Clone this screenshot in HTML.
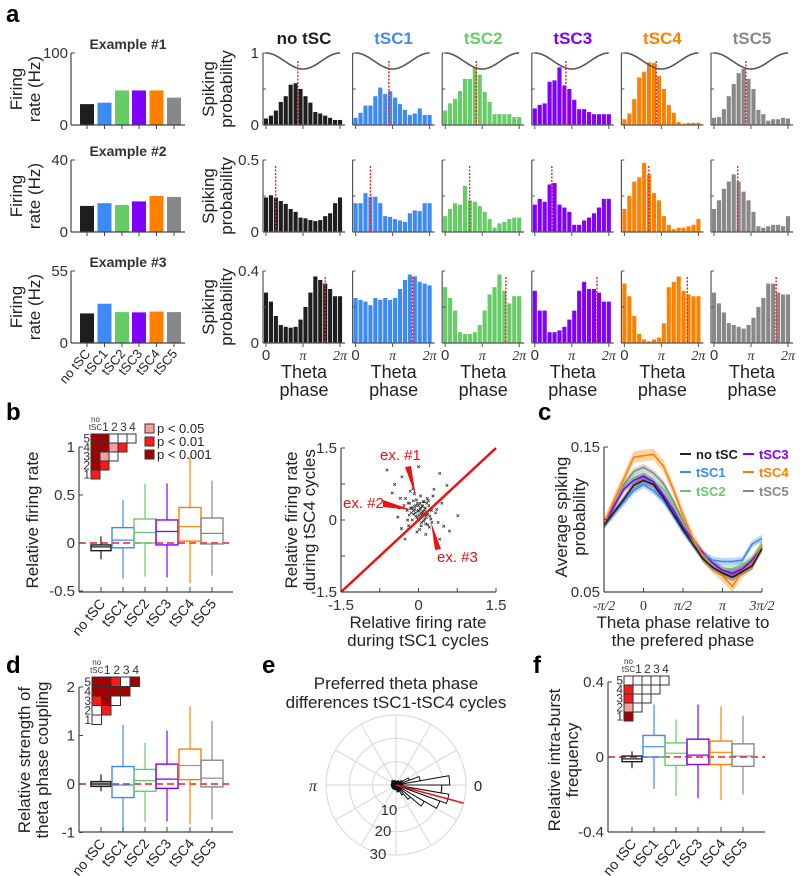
<!DOCTYPE html>
<html><head><meta charset="utf-8">
<style>
html,body{margin:0;padding:0;background:#fff;}
svg{display:block;font-family:"Liberation Sans",Arial,sans-serif;}
</style></head>
<body>
<svg id="fig" width="800" height="876" viewBox="0 0 800 876" xmlns="http://www.w3.org/2000/svg">
<text x="6" y="22" font-size="24" font-weight="bold">a</text>
<text x="6" y="420" font-size="24" font-weight="bold">b</text>
<text x="538" y="420" font-size="24" font-weight="bold">c</text>
<text x="6" y="673" font-size="24" font-weight="bold">d</text>
<text x="262" y="673" font-size="24" font-weight="bold">e</text>
<text x="533" y="673" font-size="24" font-weight="bold">f</text>
</svg>
<script>
// ---------- DATA ----------
const conds = ['no tSC','tSC1','tSC2','tSC3','tSC4','tSC5'];
const colors = ['#1e1e1e','#3d8af7','#66cc66','#8000ff','#ff8000','#888888'];
// Panel a: example firing rates
const ex1Rates = [29,31,48,48,48,38];
const ex2Rates = [14.5,16,15,17,20,19.5];
const ex3Rates = [22.6,30,23.6,23.4,24,23.6];
const exMax = [100,40,55];
// Panel a histograms (16 phase bins), rows = examples, cols = conditions
const hist1 = [
 [.09,.13,.2,.32,.4,.56,.58,.5,.4,.31,.18,.16,.13,.1,.07,.07],
 [.1,.17,.27,.27,.4,.52,.43,.47,.38,.29,.21,.14,.16,.23,.14,.14],
 [.2,.3,.36,.47,.64,.64,.8,.7,.46,.32,.15,.15,.15,.15,.11,.11],
 [.23,.28,.3,.6,.62,.8,.55,.5,.35,.22,.22,.18,.15,.15,.15,.15],
 [.08,.16,.36,.66,.74,.87,.86,.68,.5,.28,.17,.04,.02,.03,.03,.03],
 [.1,.11,.22,.4,.57,.72,.78,.64,.5,.21,.15,.06,.08,.08,.1,.09]];
const hist2 = [
 [.24,.255,.24,.215,.195,.16,.14,.1,.095,.083,.076,.083,.11,.13,.2,.24],
 [.2,.2,.27,.245,.245,.2,.11,.105,.09,.08,.07,.13,.15,.145,.2,.2],
 [.11,.16,.2,.19,.32,.22,.21,.18,.14,.09,.03,.06,.07,.09,.1,.1],
 [.19,.23,.21,.33,.34,.19,.17,.14,.05,.05,.08,.1,.13,.17,.23,.23],
 [.16,.25,.35,.38,.48,.4,.27,.22,.11,.05,.02,.03,.03,.04,.05,.09],
 [.16,.22,.3,.35,.4,.35,.28,.22,.14,.04,.03,.04,.05,.05,.04,.11]];
const hist3 = [
 [.28,.23,.15,.1,.09,.085,.09,.13,.2,.28,.37,.35,.33,.3,.26,.26],
 [.25,.24,.23,.21,.25,.24,.25,.24,.25,.3,.35,.38,.37,.34,.33,.32],
 [.31,.25,.18,.06,.05,.05,.06,.1,.18,.27,.31,.38,.29,.22,.26,.26],
 [.29,.18,.18,.06,.06,.07,.09,.13,.18,.29,.34,.3,.3,.28,.23,.23],
 [.33,.26,.15,.05,.02,.01,.02,.03,.11,.31,.34,.37,.29,.27,.26,.26],
 [.28,.22,.17,.11,.1,.09,.08,.1,.14,.2,.25,.33,.33,.28,.27,.27]];
const histMax = [1,0.5,0.4];
const histTicks = [['1','0'],['0.5','0'],['0.4','0']];
const prefPhase1 = [.43,.45,.42,.42,.43,.43];
const prefPhase2 = [.13,.2,.33,.23,.33,.32];
const prefPhase3 = [.8,.77,.82,.84,.85,.84];
// Panel b boxes
const bLo=[-0.17,-0.37,-0.35,-0.36,-0.42,-0.34];
const bQ1=[-0.08,-0.05,0,-0.02,0.02,-0.01];
const bMed=[-0.04,0.03,0.11,0.12,0.17,0.1];
const bQ3=[-0.02,0.16,0.25,0.24,0.37,0.26];
const bHi=[0.07,0.45,0.62,0.62,0.9,0.65];
const bTicks=[1,0.5,0,-0.5];
const bTickLabels=['1','0.5','0','-0.5'];
// Panel d boxes
const dLo=[-0.15,-0.95,-0.78,-0.77,-0.83,-0.73];
const dQ1=[-0.05,-0.28,-0.15,-0.09,0.09,-0.06];
const dMed=[0,-0.02,0.07,0.1,0.38,0.12];
const dQ3=[0.05,0.36,0.3,0.41,0.72,0.49];
const dHi=[0.2,1.22,0.85,1.1,1.6,1.3];
const dTicks=[2,1,0,-1];
const dTickLabels=['2','1','0','-1'];
// Panel f boxes
const fLo=[-0.06,-0.17,-0.21,-0.22,-0.23,-0.2];
const fQ1=[-0.025,0,-0.045,-0.04,-0.04,-0.05];
const fMed=[-0.01,0.055,0.02,0.01,0.025,0.005];
const fQ3=[0.005,0.115,0.075,0.095,0.085,0.07];
const fHi=[0.03,0.28,0.2,0.28,0.27,0.22];
const fTicks=[0.4,0,-0.4];
const fTickLabels=['0.4','0','-0.4'];
// significance grids (0 n.s., 1 p<.05, 2 p<.01, 3 p<.001), rows 5..1
const bSig=[[3,3,0,0,0],[3,3,1,2],[3,1,0],[3,2],[2]];
const dSig=[[3,3,2,0,3],[3,3,3,3],[2,3,0],[0,2],[0]];
const fSig=[[0,0,0,0,0],[2,0,0,0],[2,0,0],[1,0],[3]];
// scatter
const scatX=[-0.61,0.0,-0.32,0.41,0.55,-0.46,-0.4,0.76,0.6,-0.26,0.41,0.49,-0.33,0.14,0.3,-0.51,
 -0.2,-0.15,-0.1,-0.05,0,0.05,0.1,0.15,0.2,-0.25,-0.18,-0.12,-0.08,-0.02,0.03,0.08,0.12,0.18,0.25,
 -0.22,-0.16,-0.06,0.02,0.06,0.11,0.17,0.22,-0.13,-0.04,0.04,0.09,0.14,-0.09,0.0,0.07,-0.03,0.01,
 -0.28,-0.19,0.28,0.33,0.21,-0.11,0.13,0.05,-0.07,0.16,-0.01,0.1,-0.17,0.24,-0.21,0.19,0.35,-0.35,
 0.08,-0.05,0.03,0.12,-0.14,0.26,0.04,-0.1,0.15,0.0,0.06,-0.08,0.02,0.18,-0.03,0.09,0.45,-0.38,0.38];
const scatY=[1.04,1.11,0.9,0.97,0.72,0.74,0.06,0.09,-0.23,-0.4,-0.4,-0.13,-0.18,-0.3,0.64,0.56,
 0.35,0.25,0.4,0.3,0.2,0.15,0.1,0.05,0.3,0.45,0.1,0.0,0.55,0.35,0.22,0.28,0.02,0.12,0.2,
 0.2,0.6,0.15,0.05,-0.05,0.38,0.45,0.08,0.25,0.42,0.5,0.18,-0.08,0.12,0.3,0.3,0.05,0.1,
 0.3,-0.12,0.5,0.15,-0.15,0.65,0.25,-0.12,0.22,0.35,0.18,-0.02,0.35,0.02,0.0,0.4,0.22,0.45,
 0.13,0.08,0.35,0.2,0.15,-0.05,0.25,0.2,0.1,0.0,0.1,0.28,-0.2,-0.1,-0.25,0.38,0.35,0.25,-0.05];
// panel c mean curves (17 points from -pi/2 to 3pi/2)
const cBlack=[.096,.105,.114,.1235,.127,.124,.115,.104,.093,.083,.073,.067,.063,.060,.064,.068,.080];
const cBlue=[.096,.104,.112,.120,.124,.120,.113,.103,.092,.083,.076,.072,.071,.071,.072,.083,.087];
const cGreen=[.097,.109,.122,.129,.131,.127,.121,.110,.097,.085,.075,.069,.066,.066,.069,.073,.083];
const cPurple=[.097,.109,.121,.127,.130,.126,.117,.107,.095,.086,.077,.070,.065,.063,.066,.072,.081];
const cOrange=[.097,.113,.128,.143,.144,.145,.137,.121,.103,.087,.075,.067,.061,.054,.064,.069,.082];
const cGray=[.097,.110,.124,.133,.136,.132,.125,.113,.099,.085,.076,.068,.064,.063,.066,.071,.082];
const cErr=[.0025,.0025,.0025,.0025,.004,.0025];
// panel e rose histogram: bin centres (deg, counter-clockwise) and counts
const roseAngles=[-175,-165,-155,-145,-135,-125,-115,-105,-95,-85,-75,-65,-55,-45,-35,-25,-15,-5,5,15,25,35,45,55,65,75,85,95,105,115,125,135,145,155,165,175];
const roseCounts=[2,2,2,2,2,2,2,2,2,2,3,3,5,8,14,20,23,19.6,23,10.5,6,3,2,2,2,1.5,1.5,1.5,2,2,2,2.5,2,2,2,2];
const roseMeanDeg=-15;
const roseRings=[10,20,30];

// ---------- HELPERS ----------
const NS='http://www.w3.org/2000/svg';
const svg=document.getElementById('fig');
function mk(tag,attrs,parent){const e=document.createElementNS(NS,tag);for(const k in attrs)e.setAttribute(k,attrs[k]);(parent||svg).appendChild(e);return e;}
function tx(x,y,s,attrs,parent){const e=mk('text',Object.assign({x:x,y:y,'font-size':14,fill:'#222'},attrs||{}),parent);e.textContent=s;return e;}
function grp(){return mk('g',{});}
const AX='#444';
const sigCol=['#ffffff','#f4a0a0','#ff1a1a','#a50000'];

// ---------- PANEL A: example firing rates ----------
const exRates=[ex1Rates,ex2Rates,ex3Rates];
const exTop=[53,160,271], exBot=[125,232,343];
const exBarX=[87,104.5,122,139,156.5,174];
for(let r=0;r<3;r++){
  const g=grp();
  
  
  const ys=v=>exBot[r]-v/exMax[r]*(exBot[r]-exTop[r]);
  for(let i=0;i<6;i++){
    const b=mk('rect',{x:exBarX[i]-7,y:ys(exRates[r][i]),width:14,height:exBot[r]-ys(exRates[r][i]),fill:colors[i]},g);
    
    
    mk('line',{x1:exBarX[i],x2:exBarX[i],y1:exBot[r],y2:exBot[r]+4,stroke:AX},g);
  }
  mk('line',{x1:71,x2:71,y1:exTop[r],y2:exBot[r],stroke:AX,'stroke-width':1.2},g);
  mk('line',{x1:71,x2:185,y1:exBot[r],y2:exBot[r],stroke:AX,'stroke-width':1.2},g);
  mk('line',{x1:71,x2:75,y1:exTop[r],y2:exTop[r],stroke:AX},g);
  tx(68,exTop[r]+5,String(exMax[r]),{'text-anchor':'end','font-size':15,fill:'#333'},g);
  tx(68,exBot[r]+5,'0',{'text-anchor':'end','font-size':15,fill:'#333'},g);
  const t=tx(128,exTop[r]-4,'Example #'+(r+1),{'text-anchor':'middle','font-size':14,'font-weight':'bold',fill:'#333'},g);
  
  
  const cy=(exTop[r]+exBot[r])/2;
  const yl=tx(0,0,'Firing',{'text-anchor':'middle','font-size':17,transform:`translate(22,${cy}) rotate(-90)`},g);
  
  
  tx(0,0,'rate (Hz)',{'text-anchor':'middle','font-size':17,transform:`translate(40,${cy}) rotate(-90)`},g);
}
for(let i=0;i<6;i++){
  const l=tx(0,0,conds[i],{'text-anchor':'end','font-size':13,transform:`translate(${exBarX[i]+4},${354}) rotate(-50)`});
  
  
}

// ---------- PANEL A: histograms ----------
const hists=[hist1,hist2,hist3];
const prefs=[prefPhase1,prefPhase2,prefPhase3];
for(let c=0;c<6;c++){
  const x0=263+c*89.6;
  const ti=tx(x0+41,44,conds[c],{'text-anchor':'middle','font-size':17,'font-weight':'bold',fill:colors[c]});
  
  
  for(let r=0;r<3;r++){
    const g=grp();
    
    
    const top=exTop[r], bot=exBot[r];
    const ys=v=>bot-v/histMax[r]*(bot-top);
    const px=f=>x0+3+f*74;
    const bw=74/15;
    for(let i=0;i<16;i++){
      const cx=x0+3+i*bw;
      const b=mk('rect',{x:cx-bw/2+0.4,y:ys(hists[r][c][i]),width:bw-0.8,height:bot-ys(hists[r][c][i]),fill:colors[c]},g);
      
      
    }
    mk('line',{x1:x0,x2:x0,y1:top,y2:bot,stroke:'#555','stroke-width':1.2},g);
    mk('line',{x1:x0,x2:x0+82,y1:bot,y2:bot,stroke:'#555','stroke-width':1.2},g);
    [top,(top+bot)/2].forEach(yy=>mk('line',{x1:x0,x2:x0+3,y1:yy,y2:yy,stroke:'#555'},g));
    [0,0.5,1].forEach(f=>mk('line',{x1:px(f),x2:px(f),y1:bot,y2:bot+4,stroke:'#555'},g));
    if(r===0){
      let d='';
      for(let k=0;k<=40;k++){const p=k/40*2*Math.PI;d+=(k?'L':'M')+px(k/40).toFixed(2)+','+(top+8*(1-Math.cos(p))).toFixed(2);}
      const s=mk('path',{d:d,fill:'none',stroke:'#555','stroke-width':1.6},g);
      
      
    }
    const pl=mk('line',{x1:px(prefs[r][c]),x2:px(prefs[r][c]),y1:top+(r===0?8:6),y2:bot,stroke:'#ff1a1a','stroke-width':1.4,'stroke-dasharray':'2,1.5'},g);
    
    
    if(c===0){
      tx(x0-4,top+5,histTicks[r][0],{'text-anchor':'end','font-size':15,fill:'#333'},g);
      tx(x0-4,bot+5,histTicks[r][1],{'text-anchor':'end','font-size':15,fill:'#333'},g);
      const cy=(top+bot)/2;
      const yl=tx(0,0,'Spiking',{'text-anchor':'middle','font-size':17,transform:`translate(214,${cy}) rotate(-90)`},g);
      
      
      tx(0,0,'probability',{'text-anchor':'middle','font-size':17,transform:`translate(232,${cy}) rotate(-90)`},g);
    }
    if(r===2){
      tx(px(0),360,'0',{'text-anchor':'middle','font-size':15,fill:'#333'},g);
      tx(px(0.5),360,'π',{'text-anchor':'middle','font-size':14,'font-style':'italic','font-family':'Liberation Serif, serif',fill:'#333'},g);
      tx(px(1),360,'2π',{'text-anchor':'middle','font-size':14,'font-style':'italic','font-family':'Liberation Serif, serif',fill:'#333'},g);
      const xl=tx(x0+41,378,'Theta',{'text-anchor':'middle','font-size':18},g);
      
      
      tx(x0+41,396,'phase',{'text-anchor':'middle','font-size':18},g);
    }
  }
}

// ---------- BOX PLOTS ----------
const boxX=[101,123,145,167,190,212];
function boxPanel(name,lo,q1,med,q3,hi,ticks,tickLabels,y0,scale,axLeft,axRight,yTop,yBot,xOff,filledFirst){
  const g=grp();
  
  
  const ys=v=>y0-v*scale;
  const zl=mk('line',{x1:axLeft,x2:axRight,y1:ys(0),y2:ys(0),stroke:'#ff1a1a','stroke-width':1.5,'stroke-dasharray':'7,4'},g);
  
  
  for(let i=0;i<6;i++){
    const x=boxX[i]+xOff;
    const bg=mk('g',{},g);
    
    
    const w=i===0?10:11;
    mk('line',{x1:x,x2:x,y1:ys(hi[i]),y2:ys(q3[i]),stroke:colors[i],'stroke-width':1.2},bg);
    mk('line',{x1:x,x2:x,y1:ys(q1[i]),y2:ys(lo[i]),stroke:colors[i],'stroke-width':1.2},bg);
    mk('rect',{x:x-w,y:ys(q3[i]),width:2*w,height:ys(q1[i])-ys(q3[i]),fill:(i===0&&filledFirst)?'#bbb':'none',stroke:colors[i],'stroke-width':1.4},bg);
    mk('line',{x1:x-w,x2:x+w,y1:ys(med[i]),y2:ys(med[i]),stroke:colors[i],'stroke-width':1.2},bg);
    mk('line',{x1:x,x2:x,y1:yBot,y2:yBot-5,stroke:AX},g);
    const l=tx(0,0,conds[i],{'text-anchor':'end','font-size':14,transform:`translate(${x+5},${yBot+12}) rotate(-50)`},g);
    
    
  }
  mk('line',{x1:axLeft,x2:axLeft,y1:yTop,y2:yBot,stroke:AX,'stroke-width':1.2},g);
  mk('line',{x1:axLeft,x2:axRight,y1:yBot,y2:yBot,stroke:AX,'stroke-width':1.2},g);
  for(let k=0;k<ticks.length;k++){
    mk('line',{x1:axLeft,x2:axLeft+4,y1:ys(ticks[k]),y2:ys(ticks[k]),stroke:AX},g);
    tx(axLeft-4,ys(ticks[k])+5,tickLabels[k],{'text-anchor':'end','font-size':15,fill:'#333'},g);
  }
  return g;
}
function sigGrid(name,sig,left,top,cell){
  const g=grp();
  
  
  for(let r=0;r<5;r++){
    for(let c=0;c<sig[r].length;c++){
      const q=mk('rect',{x:left+c*cell,y:top+r*cell,width:cell,height:cell,fill:sigCol[sig[r][c]],stroke:'#333','stroke-width':1},g);
      
      
    }
    tx(left-1,top+r*cell+cell-0.5,String(5-r),{'text-anchor':'end','font-size':12,fill:'#333'},g);
  }
  tx(left+cell/2,top-12,'no',{'text-anchor':'middle','font-size':8,fill:'#333'},g);
  tx(left+cell/2,top-4,'tSC',{'text-anchor':'middle','font-size':8,fill:'#333'},g);
  for(let c=1;c<5;c++) tx(left+c*cell+cell/2+1,top-3,String(c),{'text-anchor':'middle','font-size':12,fill:'#333'},g);
}
// panel b
boxPanel('panel-b-boxplot',bLo,bQ1,bMed,bQ3,bHi,bTicks,bTickLabels,543,96,79,233,447,592,0,false);
sigGrid('panel-b-significance-grid',bSig,91,434,9);
{
  const labs=['p < 0.05','p < 0.01','p < 0.001'];
  for(let k=0;k<3;k++){
    const q=mk('rect',{x:145,y:424+k*13,width:9,height:9,fill:sigCol[k+1],stroke:'#333'});
    
    
    tx(157,433+k*13,labs[k],{'font-size':13,fill:'#222'});
  }
  const yl=tx(0,0,'Relative firing rate',{'text-anchor':'middle','font-size':17,transform:'translate(38,520) rotate(-90)'});
  
  
}
// panel d
boxPanel('panel-d-boxplot',dLo,dQ1,dMed,dQ3,dHi,dTicks,dTickLabels,784,48.5,79,233,687,832,0,true);
sigGrid('panel-d-significance-grid',dSig,92,677,9.5);
{
  const a=tx(0,0,'Relative strength of',{'text-anchor':'middle','font-size':17,transform:'translate(30,760) rotate(-90)'});
  
  
  tx(0,0,'theta phase coupling',{'text-anchor':'middle','font-size':17,transform:'translate(48,760) rotate(-90)'});
}
// panel f
boxPanel('panel-f-boxplot',fLo,fQ1,fMed,fQ3,fHi,fTicks,fTickLabels,757,187.5,608,765,682,832,531,false);
sigGrid('panel-f-significance-grid',fSig,624,676,9);
{
  const a=tx(0,0,'Relative intra-burst',{'text-anchor':'middle','font-size':17,transform:'translate(560,760) rotate(-90)'});
  
  
  tx(0,0,'frequency',{'text-anchor':'middle','font-size':17,transform:'translate(578,760) rotate(-90)'});
}

// ---------- SCATTER (panel b right) ----------
{
  const g=grp();
  
  
  const L=341,R=496,T=448,B=592;
  const xs=v=>L+(v+1.5)/3*(R-L), ys=v=>B-(v+1.5)/3*(B-T);
  for(let i=0;i<scatX.length;i++){
    const x=xs(scatX[i]),y=ys(scatY[i]);
    const p=mk('path',{d:`M${x-1.3},${y-1.3}L${x+1.3},${y+1.3}M${x-1.3},${y+1.3}L${x+1.3},${y-1.3}`,stroke:'#333','stroke-width':0.8},g);
    
    
  }
  const dl=mk('line',{x1:xs(-1.5),y1:ys(-1.5),x2:xs(1.5),y2:ys(1.5),stroke:'#ee1111','stroke-width':2.5},g);
  
  
  mk('line',{x1:L,x2:L,y1:T,y2:B,stroke:AX,'stroke-width':1.2},g);
  mk('line',{x1:L,x2:R,y1:B,y2:B,stroke:AX,'stroke-width':1.2},g);
  [-1.5,-0.75,0,0.75,1.5].forEach(v=>{
    mk('line',{x1:xs(v),x2:xs(v),y1:B,y2:B-4,stroke:AX},g);
    mk('line',{x1:L,x2:L+4,y1:ys(v),y2:ys(v),stroke:AX},g);
  });
  [['-1.5',-1.5],['0',0],['1.5',1.5]].forEach(t=>{
    tx(xs(t[1]),610,t[0],{'text-anchor':'middle','font-size':15,fill:'#333'},g);
    tx(L-4,ys(t[1])+5,t[0],{'text-anchor':'end','font-size':15,fill:'#333'},g);
  });
  const ann=[['ex. #1',380,460,'M405,467 L411,466 L416,497 Z'],['ex. #2',343,508,'M383,500 L383,507 L412,510 Z'],['ex. #3',437,562,'M435,550 L441,549 L431,522 Z']];
  ann.forEach(a=>{
    const t=tx(a[1],a[2],a[0],{'font-size':15,fill:'#ee1111'},g);
    
    
    mk('path',{d:a[3],fill:'#ee1111'},g);
  });
  const xl=tx(418,628,'Relative firing rate',{'text-anchor':'middle','font-size':17},g);
  
  
  tx(418,646,'during tSC1 cycles',{'text-anchor':'middle','font-size':17},g);
  const yl=tx(0,0,'Relative firing rate',{'text-anchor':'middle','font-size':17,transform:'translate(297,520) rotate(-90)'},g);
  
  
  tx(0,0,'during tSC4 cycles',{'text-anchor':'middle','font-size':17,transform:'translate(315,520) rotate(-90)'},g);
}

// ---------- PANEL C ----------
{
  const g=grp();
  
  
  const L=604,R=762,T=447,B=592;
  const xs=k=>L+k/16*(R-L), ys=v=>B-(v-0.05)/0.1*(B-T);
  const curves=[cGray,cGreen,cPurple,cBlue,cOrange,cBlack];
  const ci=[5,2,3,1,4,0];
  for(let j=0;j<curves.length;j++){
    const v=curves[j], e=cErr[j], col=colors[ci[j]];
    let up='',dn='';
    for(let k=0;k<v.length;k++){up+=(k?'L':'M')+xs(k).toFixed(1)+','+ys(v[k]+e).toFixed(1);}
    for(let k=v.length-1;k>=0;k--){dn+='L'+xs(k).toFixed(1)+','+ys(v[k]-e).toFixed(1);}
    const band=mk('path',{d:up+dn+'Z',fill:col,'fill-opacity':0.35,stroke:'none'},g);
    
    
  }
  for(let j=0;j<curves.length;j++){
    const v=curves[j], col=colors[ci[j]];
    let d='';
    for(let k=0;k<v.length;k++){d+=(k?'L':'M')+xs(k).toFixed(1)+','+ys(v[k]).toFixed(1);}
    const ln=mk('path',{d:d,fill:'none',stroke:col,'stroke-width':1.6},g);
    
    
  }
  mk('line',{x1:L,x2:L,y1:T,y2:B,stroke:AX,'stroke-width':1.2},g);
  mk('line',{x1:L,x2:R,y1:B,y2:B,stroke:AX,'stroke-width':1.2},g);
  const xtl=['-π/2','0','π/2','π','3π/2'];
  for(let k=0;k<5;k++){
    mk('line',{x1:xs(k*4),x2:xs(k*4),y1:B,y2:B-4,stroke:AX},g);
    tx(xs(k*4),610,xtl[k],{'text-anchor':'middle','font-size':14,'font-family':'Liberation Serif, serif','font-style':k===1?'normal':'italic',fill:'#333'},g);
  }
  [0.05,0.1,0.15].forEach(v=>mk('line',{x1:L,x2:L+4,y1:ys(v),y2:ys(v),stroke:AX},g));
  tx(L-4,ys(0.15)+5,'0.15',{'text-anchor':'end','font-size':15,fill:'#333'},g);
  tx(L-4,ys(0.05)+5,'0.05',{'text-anchor':'end','font-size':15,fill:'#333'},g);
  const yl=tx(0,0,'Average spiking',{'text-anchor':'middle','font-size':17,transform:'translate(567,517) rotate(-90)'},g);
  
  
  tx(0,0,'probability',{'text-anchor':'middle','font-size':17,transform:'translate(585,517) rotate(-90)'},g);
  const xl=tx(683,628,'Theta phase relative to',{'text-anchor':'middle','font-size':17},g);
  
  
  tx(683,646,'the prefered phase',{'text-anchor':'middle','font-size':17},g);
  const lx=[680,680,680,743,743,743], ly=[454,472,491,454,472,491];
  for(let i=0;i<6;i++){
    const le=mk('g',{},g);
    
    
    mk('line',{x1:lx[i],x2:lx[i]+11,y1:ly[i],y2:ly[i],stroke:colors[i],'stroke-width':2},le);
    tx(lx[i]+16,ly[i]+5,conds[i],{'font-size':13,'font-weight':'bold',fill:colors[i]},le);
  }
}

// ---------- PANEL E: rose ----------
{
  const g=grp();
  
  
  const cx=396,cy=785,pxPer=70/30;
  roseRings.forEach(r=>mk('circle',{cx:cx,cy:cy,r:r*pxPer,fill:'none',stroke:'#dcdcdc','stroke-width':1.2},g));
  for(let a=0;a<360;a+=30){const t=a*Math.PI/180;mk('line',{x1:cx,y1:cy,x2:cx+70*Math.cos(t),y2:cy-70*Math.sin(t),stroke:'#dcdcdc','stroke-width':1.2},g);}
  for(let i=0;i<roseAngles.length;i++){
    const r=roseCounts[i]*pxPer, a1=(roseAngles[i]-5)*Math.PI/180, a2=(roseAngles[i]+5)*Math.PI/180;
    const d=`M${cx},${cy}L${(cx+r*Math.cos(a1)).toFixed(1)},${(cy-r*Math.sin(a1)).toFixed(1)}A${r},${r} 0 0 0 ${(cx+r*Math.cos(a2)).toFixed(1)},${(cy-r*Math.sin(a2)).toFixed(1)}Z`;
    const w=mk('path',{d:d,fill:'#fff',stroke:'#111','stroke-width':1},g);
    
    
  }
  mk('circle',{cx:cx,cy:cy,r:4,fill:'#111'},g);
  const t=roseMeanDeg*Math.PI/180;
  const ml=mk('line',{x1:cx,y1:cy,x2:cx+70*Math.cos(t),y2:cy-70*Math.sin(t),stroke:'#ee1111','stroke-width':1.6},g);
  
  
  tx(313,791,'π',{'text-anchor':'middle','font-size':16,'font-style':'italic','font-family':'Liberation Serif, serif'},g);
  tx(478,791,'0',{'text-anchor':'middle','font-size':15},g);
  tx(389,815,'10',{'text-anchor':'middle','font-size':15,fill:'#333'},g);
  tx(383,836,'20',{'text-anchor':'middle','font-size':15,fill:'#333'},g);
  tx(378,859,'30',{'text-anchor':'middle','font-size':15,fill:'#333'},g);
  const ti=tx(396,689,'Preferred theta phase',{'text-anchor':'middle','font-size':17},g);
  
  
  tx(396,708,'differences tSC1-tSC4 cycles',{'text-anchor':'middle','font-size':17},g);
}
</script>
</body></html>
